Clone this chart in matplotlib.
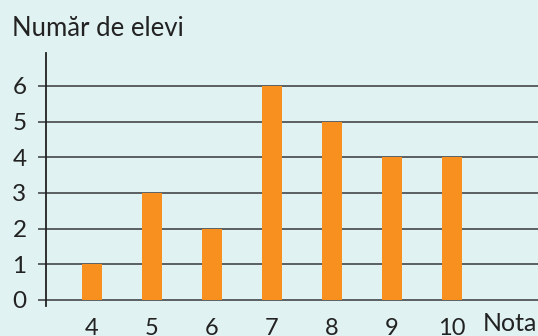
import matplotlib.pyplot as plt

# grades and number of students per grade
note = [4, 5, 6, 7, 8, 9, 10]
elevi = [1, 3, 2, 6, 5, 4, 4]
y_ticks = [0, 1, 2, 3, 4, 5, 6]

bg = "#e1f2f2"
orange = "#f7901e"
line_col = "#505558"

plt.rcParams["font.family"] = ["Lato", "DejaVu Sans"]

fig = plt.figure(figsize=(5.38, 3.36), dpi=100, facecolor=bg)
ax = fig.add_axes([46 / 538, 1 - 306 / 336, 1 - 46 / 538, (306 - 53) / 336])
ax.set_facecolor(bg)

# horizontal lines behind the bars
for v in y_ticks:
    ax.axhline(v, color=line_col, lw=1.3, zorder=1)

ax.bar(note, elevi, width=0.333, color=orange, zorder=2)

ax.set_xlim(4 - 46 / 60, 4 + (538 - 92) / 60)
ax.set_ylim(-0.17, 6.92)

for s in ["top", "right", "bottom"]:
    ax.spines[s].set_visible(False)
ax.spines["left"].set_color("#222222")
ax.spines["left"].set_linewidth(1.3)

ax.set_yticks(y_ticks)
ax.set_yticklabels([str(v) for v in y_ticks])
ax.tick_params(axis="y", length=6, width=1.3, color=line_col, pad=8,
               labelsize=17.5, labelcolor="#222222")
ax.set_xticks(note)
ax.set_xticklabels([str(n) for n in note])
ax.tick_params(axis="x", length=0, pad=8.5, labelsize=17, labelcolor="#222222")

fig.text(12 / 538, 1 - 36 / 336, "Număr de elevi", fontsize=18.5,
         color="#222222", va="baseline", ha="left")
fig.text(537 / 538, 1 - 331 / 336, "Nota", fontsize=18,
         color="#222222", va="baseline", ha="right")

fig.savefig("out.png", dpi=100, facecolor=bg)
